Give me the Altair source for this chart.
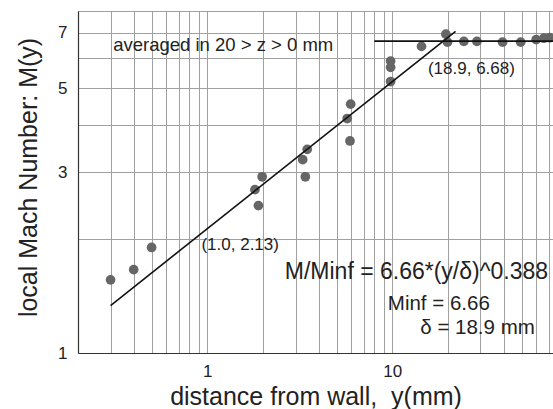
import altair as alt
import pandas as pd

# Measured Mach number profile
dist_mm = [0.30, 0.40, 0.50, 1.81, 1.89, 1.98, 3.28, 3.39, 3.47, 5.71, 5.91, 5.96,
           9.8, 9.8, 9.8, 14.4, 19.5, 19.9, 24.4, 28.7, 39.5, 49.5, 60.0, 66.0, 71.0]
mach = [1.56, 1.66, 1.90, 2.70, 2.45, 2.92, 3.24, 2.92, 3.45, 4.16, 3.63, 4.54,
        5.90, 5.68, 5.21, 6.45, 6.95, 6.62, 6.65, 6.65, 6.62, 6.62, 6.72, 6.78, 6.80]

# Power-law fit parameters
M_INF = 6.66
DELTA = 18.9
EXPONENT = 0.388
fit_range = [0.3, 22.0]

# Free-stream average (20 > z > 0 mm)
avg_range = [8.0, 74.0]

x_domain = [0.2, 74.0]
y_domain = [1, 8]

x_grid = [0.2, 0.3, 0.4, 0.5, 0.6, 0.7, 0.8, 0.9, 1, 2, 3, 4, 5, 6, 7, 8, 9,
          10, 20, 30, 40, 50, 60, 70]
y_grid = [1, 2, 3, 4, 5, 6, 7, 8]
x_labels = [1, 10]
y_labels = [1, 3, 5, 7]

FONT = "Liberation Sans"
INK = "#222222"

points = pd.DataFrame({"y_mm": dist_mm, "M": mach})
fit = pd.DataFrame({
    "y_mm": fit_range,
    "M": [M_INF * (v / DELTA) ** EXPONENT for v in fit_range],
})
avg = pd.DataFrame({"y_mm": [avg_range[0]], "y_mm2": [avg_range[1]], "M": [M_INF]})

notes = pd.DataFrame([
    {"x": 0.31, "y": 6.51, "text": "averaged in 20 > z > 0 mm", "size": 18.5, "align": "left"},
    {"x": 15.6, "y": 5.62, "text": "(18.9, 6.68)", "size": 17, "align": "left"},
    {"x": 0.93, "y": 1.93, "text": "(1.0, 2.13)", "size": 17, "align": "left"},
    {"x": 69.6, "y": 1.635, "text": "M/Minf = 6.66*(y/δ)^0.388", "size": 23, "align": "right"},
    {"x": 33.7, "y": 1.346, "text": "Minf = 6.66", "size": 20.5, "align": "right"},
    {"x": 59.0, "y": 1.166, "text": "δ = 18.9 mm", "size": 20.5, "align": "right"},
])

x_scale = alt.Scale(type="log", domain=x_domain, nice=False)
y_scale = alt.Scale(type="log", domain=y_domain, nice=False)

x_enc = alt.X(
    "y_mm:Q", scale=x_scale,
    axis=alt.Axis(
        title="distance from wall,\u00a0 y(mm)",
        values=x_grid,
        format="~g",
        labelExpr="indexof([%s], datum.value) >= 0 ? datum.label : ''" % ",".join(str(v) for v in x_labels),
        ticks=False,
        labelPadding=10,
        titlePadding=5,
    ),
)
y_enc = alt.Y(
    "M:Q", scale=y_scale,
    axis=alt.Axis(
        title="local Mach Number: M(y)",
        values=y_grid,
        format="~g",
        labelExpr="indexof([%s], datum.value) >= 0 ? datum.label : ''" % ",".join(str(v) for v in y_labels),
        ticks=False,
        labelPadding=11,
        titleX=-50,
        titleY=166,
        titleAngle=270,
        titleBaseline="middle",
    ),
)

dots = alt.Chart(points).mark_circle(size=95, color="#666666", opacity=1).encode(x=x_enc, y=y_enc)

fit_line = alt.Chart(fit).mark_line(color="#111111", strokeWidth=1.6).encode(
    x=alt.X("y_mm:Q", scale=x_scale), y=alt.Y("M:Q", scale=y_scale)
)

avg_line = alt.Chart(avg).mark_rule(color="#111111", strokeWidth=1.6).encode(
    x=alt.X("y_mm:Q", scale=x_scale), x2="y_mm2:Q", y=alt.Y("M:Q", scale=y_scale)
)

def note_layer(df):
    size = float(df["size"].iloc[0])
    align = df["align"].iloc[0]
    return alt.Chart(df).mark_text(
        font=FONT, fontSize=size, align=align, baseline="middle", color=INK
    ).encode(
        x=alt.X("x:Q", scale=x_scale), y=alt.Y("y:Q", scale=y_scale), text="text:N"
    )

note_layers = [note_layer(g) for _, g in notes.groupby(["size", "align"], sort=False)]

chart = alt.layer(dots, fit_line, avg_line, *note_layers).properties(
    width=475,
    height=342,
    autosize=alt.AutoSizeParams(type="none"),
    padding={"left": 78, "top": 11, "right": 0, "bottom": 56},
    background="white",
).configure_view(
    stroke=None
).configure_axis(
    grid=True,
    gridColor="#a0a0a0",
    gridWidth=1,
    domainColor="#333333",
    domainWidth=1.2,
    labelFont=FONT,
    labelFontSize=17,
    labelColor=INK,
    titleFont=FONT,
    titleFontSize=25,
    titleFontWeight="normal",
    titleColor=INK,
)

chart.save("out.html", embed_options={"renderer": "svg", "actions": False})
